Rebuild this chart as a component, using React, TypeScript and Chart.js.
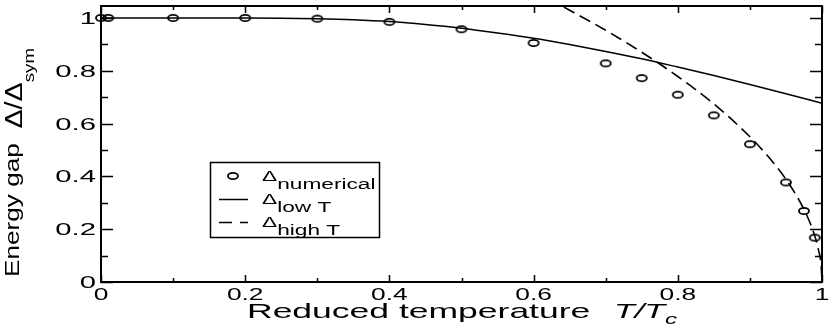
import React, { useEffect, useRef } from "react";
import { Chart, registerables } from "chart.js";
Chart.register(...registerables);

// ---- data ----
const numT = [0, 0.01, 0.1, 0.2, 0.3, 0.4, 0.5, 0.6, 0.7, 0.75, 0.8, 0.85, 0.9, 0.95, 0.975, 0.99];
const numGap = [1, 1, 1, 1, 0.997, 0.985, 0.957, 0.905, 0.828, 0.772, 0.709, 0.631, 0.522, 0.377, 0.269, 0.168];
const lowT = [0, 0.1, 0.2, 0.25, 0.3, 0.35, 0.4, 0.45, 0.5, 0.55, 0.6, 0.65, 0.7, 0.75, 0.8, 0.85, 0.9, 0.95, 1.0];
const lowGap = [1, 1, 1, 0.999, 0.997, 0.993, 0.986, 0.975, 0.961, 0.943, 0.923, 0.899, 0.873, 0.845, 0.814, 0.782, 0.748, 0.713, 0.677];
const highT = [0.62, 0.65, 0.7, 0.75, 0.8, 0.85, 0.9, 0.93, 0.95, 0.97, 0.98, 0.99, 0.995, 0.999, 1.0];
const highGap = [1.073, 1.029, 0.953, 0.87, 0.778, 0.674, 0.55, 0.46, 0.389, 0.301, 0.246, 0.174, 0.123, 0.055, 0];
const xMajor = [0, 0.2, 0.4, 0.6, 0.8, 1];
const xMajorLabels = ["0", "0.2", "0.4", "0.6", "0.8", "1"];
const yMajor = [0, 0.2, 0.4, 0.6, 0.8, 1];
const yMajorLabels = ["0", "0.2", "0.4", "0.6", "0.8", "1"];
const minorTicks = [0.1, 0.3, 0.5, 0.7, 0.9];
const legendLabels = [
  { main: "\u0394", sub: "numerical" },
  { main: "\u0394", sub: "low T" },
  { main: "\u0394", sub: "high T" },
];

const FONT = "'Liberation Sans', Arial, Helvetica, sans-serif";

type Seg = { t: string; font: string; dy?: number };

function drawRich(
  ctx: CanvasRenderingContext2D,
  segs: Seg[],
  x: number,
  y: number,
  sx: number,
  align: "left" | "center" | "right",
  rot = 0,
  fitLen = 0
) {
  ctx.save();
  ctx.translate(x, y);
  if (rot) ctx.rotate(rot);
  let total = 0;
  for (const s of segs) {
    ctx.font = s.font;
    total += ctx.measureText(s.t).width;
  }
  const scale = fitLen ? fitLen / total : sx;
  ctx.scale(scale, 1);
  let cx = align === "left" ? 0 : align === "center" ? -total / 2 : -total;
  ctx.textBaseline = "alphabetic";
  ctx.textAlign = "left";
  ctx.fillStyle = "#000";
  for (const s of segs) {
    ctx.font = s.font;
    ctx.fillText(s.t, cx, s.dy || 0);
    cx += ctx.measureText(s.t).width;
  }
  ctx.restore();
}

function makeOval(): HTMLCanvasElement {
  const c = document.createElement("canvas");
  c.width = 14;
  c.height = 10;
  const g = c.getContext("2d")!;
  g.strokeStyle = "#000";
  g.lineWidth = 1.8;
  g.beginPath();
  g.ellipse(7, 5, 5, 3.2, 0, 0, Math.PI * 2);
  g.stroke();
  return c;
}

export default function App() {
  const ref = useRef<HTMLCanvasElement>(null);
  useEffect(() => {
    const oval = makeOval();
    const decor = {
      id: "decor",
      afterDatasetsDraw(chart: any) {
        const ctx: CanvasRenderingContext2D = chart.ctx;
        const a = chart.chartArea;
        const xs = chart.scales.x;
        const ys = chart.scales.y;
        ctx.save();
        ctx.strokeStyle = "#000";
        // ticks (inward, mirrored)
        ctx.lineWidth = 1.5;
        ctx.beginPath();
        const xt = (v: number, len: number) => {
          const px = Math.round(xs.getPixelForValue(v)) + 0.5;
          ctx.moveTo(px, a.bottom);
          ctx.lineTo(px, a.bottom - len);
          ctx.moveTo(px, a.top);
          ctx.lineTo(px, a.top + len);
        };
        const yt = (v: number, len: number) => {
          const py = Math.round(ys.getPixelForValue(v)) + 0.5;
          ctx.moveTo(a.left, py);
          ctx.lineTo(a.left + len, py);
          ctx.moveTo(a.right, py);
          ctx.lineTo(a.right - len, py);
        };
        xMajor.forEach((v) => xt(v, 7));
        minorTicks.forEach((v) => xt(v, 4));
        yMajor.forEach((v) => yt(v, 12));
        minorTicks.forEach((v) => yt(v, 7));
        ctx.stroke();
        // frame
        ctx.lineWidth = 2;
        ctx.strokeRect(a.left, a.top, a.right - a.left, a.bottom - a.top);
        ctx.restore();

        // tick labels
        const tf = `17px ${FONT}`;
        xMajor.forEach((v, i) => {
          drawRich(ctx, [{ t: xMajorLabels[i], font: tf }], xs.getPixelForValue(v), 300, 1.55, "center");
        });
        yMajor.forEach((v, i) => {
          drawRich(ctx, [{ t: yMajorLabels[i], font: tf }], 96, ys.getPixelForValue(v) + 6, 1.72, "right");
        });

        // x title
        const tfont = `21px ${FONT}`;
        const ifont = `italic 21px ${FONT}`;
        drawRich(ctx, [{ t: "Reduced temperature", font: tfont }], 247, 318, 1.69, "left");
        drawRich(
          ctx,
          [
            { t: "T/T", font: ifont },
            { t: "c", font: `italic 15px ${FONT}`, dy: 6 },
          ],
          614,
          318,
          1.62,
          "left"
        );
        // y title (rotated)
        drawRich(
          ctx,
          [
            { t: "Energy gap  ", font: tfont },
            { t: "\u0394/\u0394", font: `23px ${FONT}`, dy: 3 },
            { t: "sym", font: `15px ${FONT}`, dy: 15 },
          ],
          19,
          277,
          1,
          "left",
          -Math.PI / 2,
          229
        );

        // legend
        const lx = 210, ly = 162, lw = 169, lh = 75;
        ctx.save();
        ctx.fillStyle = "#fff";
        ctx.fillRect(lx, ly, lw, lh);
        ctx.strokeStyle = "#000";
        ctx.lineWidth = 1.5;
        ctx.strokeRect(lx + 0.5, ly + 0.5, lw, lh);
        const rows = [176, 199, 222];
        ctx.drawImage(oval, 233 - 7, rows[0] - 5);
        ctx.lineWidth = 1.5;
        ctx.beginPath();
        ctx.moveTo(219, rows[1] + 0.5);
        ctx.lineTo(248, rows[1] + 0.5);
        ctx.stroke();
        ctx.setLineDash([13, 8]);
        ctx.beginPath();
        ctx.moveTo(219, rows[2] + 0.5);
        ctx.lineTo(248, rows[2] + 0.5);
        ctx.stroke();
        ctx.setLineDash([]);
        ctx.restore();
        legendLabels.forEach((l, i) => {
          drawRich(
            ctx,
            [
              { t: l.main, font: `14px ${FONT}` },
              { t: l.sub, font: `14px ${FONT}`, dy: 8 },
            ],
            262,
            rows[i] + 5,
            1.62,
            "left"
          );
        });
      },
    };

    const chart = new Chart(ref.current!, {
      type: "scatter",
      data: {
        datasets: [
          {
            label: "numerical",
            data: numT.map((x, i) => ({ x, y: numGap[i] })),
            pointStyle: oval as any,
            pointRadius: 5,
            showLine: false,
            clip: false as any,
            borderColor: "#000",
            backgroundColor: "#000",
          },
          {
            label: "low T",
            data: lowT.map((x, i) => ({ x, y: lowGap[i] })),
            showLine: true,
            pointRadius: 0,
            borderColor: "#000",
            borderWidth: 1.5,
            cubicInterpolationMode: "monotone",
          },
          {
            label: "high T",
            data: highT.map((x, i) => ({ x, y: highGap[i] })),
            showLine: true,
            pointRadius: 0,
            borderColor: "#000",
            borderWidth: 1.6,
            borderDash: [12, 6],
            cubicInterpolationMode: "monotone",
          },
        ],
      },
      options: {
        responsive: false,
        animation: false,
        devicePixelRatio: 1,
        layout: { padding: { left: 101, right: 8, top: 3, bottom: 45 } },
        plugins: { legend: { display: false }, tooltip: { enabled: false } },
        scales: {
          x: { type: "linear", display: false, min: 0, max: 1 },
          y: { type: "linear", display: false, min: 0, max: 1.045 },
        },
      },
      plugins: [decor],
    });
    return () => chart.destroy();
  }, []);

  return (
    <div style={{ position: "fixed", left: 0, top: 0, width: 830, height: 327, background: "#fff" }}>
      <canvas ref={ref} width={830} height={327} style={{ display: "block" }} />
    </div>
  );
}
